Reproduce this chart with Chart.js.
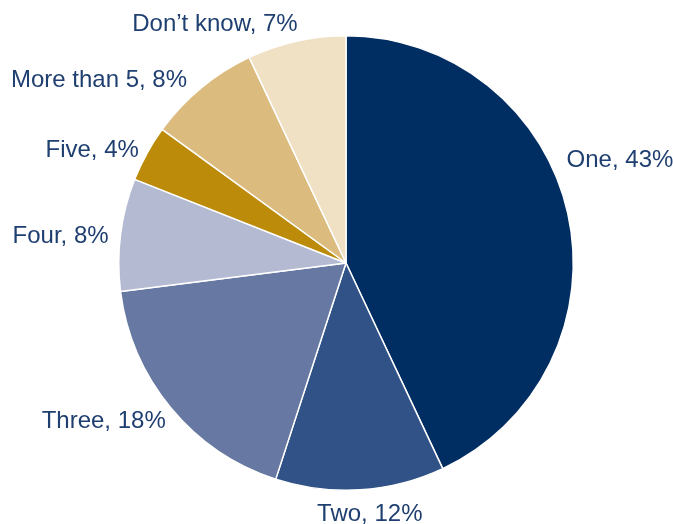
<!DOCTYPE html>
<html>
<head>
<meta charset="utf-8">
<script src="https://cdn.jsdelivr.net/npm/chart.js@4/dist/chart.umd.min.js"></script>
<style>
  html, body { margin: 0; padding: 0; background: #fff; }
  #wrap { width: 673px; height: 524px; }
</style>
</head>
<body>
<div id="wrap"><canvas id="pie" width="673" height="524"></canvas></div>
<script>
const categories = ["One", "Two", "Three", "Four", "Five", "More than 5", "Don\u2019t know"];
const shares = [43, 12, 18, 8, 4, 8, 7];
const sliceColors = ["#002d62", "#305286", "#6779a2", "#b3bad2", "#bb8b09", "#dbbc7e", "#f1e1c4"];

// small hand nudges so the outside labels sit where the original put them
const labelNudge = [[-9, -51], [9, 17], [1, 8], [-4, 3], [-1, 1], [-9, -1], [3, -9]];

const outsideLabels = {
  id: "outsideLabels",
  afterDatasetsDraw(chart) {
    const ctx = chart.ctx;
    const meta = chart.getDatasetMeta(0);
    ctx.save();
    ctx.font = "24px 'Liberation Sans', Arial, sans-serif";
    ctx.fillStyle = "#1f3f70";
    ctx.textBaseline = "middle";
    meta.data.forEach((arc, i) => {
      const { x, y, startAngle, endAngle, outerRadius } = arc.getProps(
        ["x", "y", "startAngle", "endAngle", "outerRadius"], true);
      const mid = (startAngle + endAngle) / 2;
      const r = outerRadius + 8;
      const cos = Math.cos(mid);
      const ax = x + r * cos;
      const ay = y + r * Math.sin(mid);
      if (cos > 0.15) ctx.textAlign = "left";
      else if (cos < -0.15) ctx.textAlign = "right";
      else ctx.textAlign = "center";
      const n = labelNudge[i] || [0, 0];
      ctx.fillText(`${categories[i]}, ${shares[i]}%`, ax + n[0], ay + n[1]);
    });
    ctx.restore();
  }
};

new Chart(document.getElementById("pie").getContext("2d"), {
  type: "pie",
  data: {
    labels: categories,
    datasets: [{
      data: shares,
      backgroundColor: sliceColors,
      borderColor: "#ffffff",
      borderWidth: 1.5
    }]
  },
  options: {
    responsive: false,
    animation: false,
    layout: { padding: { left: 118, right: 99, top: 35, bottom: 33 } },
    plugins: { legend: { display: false }, tooltip: { enabled: false } }
  },
  plugins: [outsideLabels]
});
</script>
</body>
</html>
